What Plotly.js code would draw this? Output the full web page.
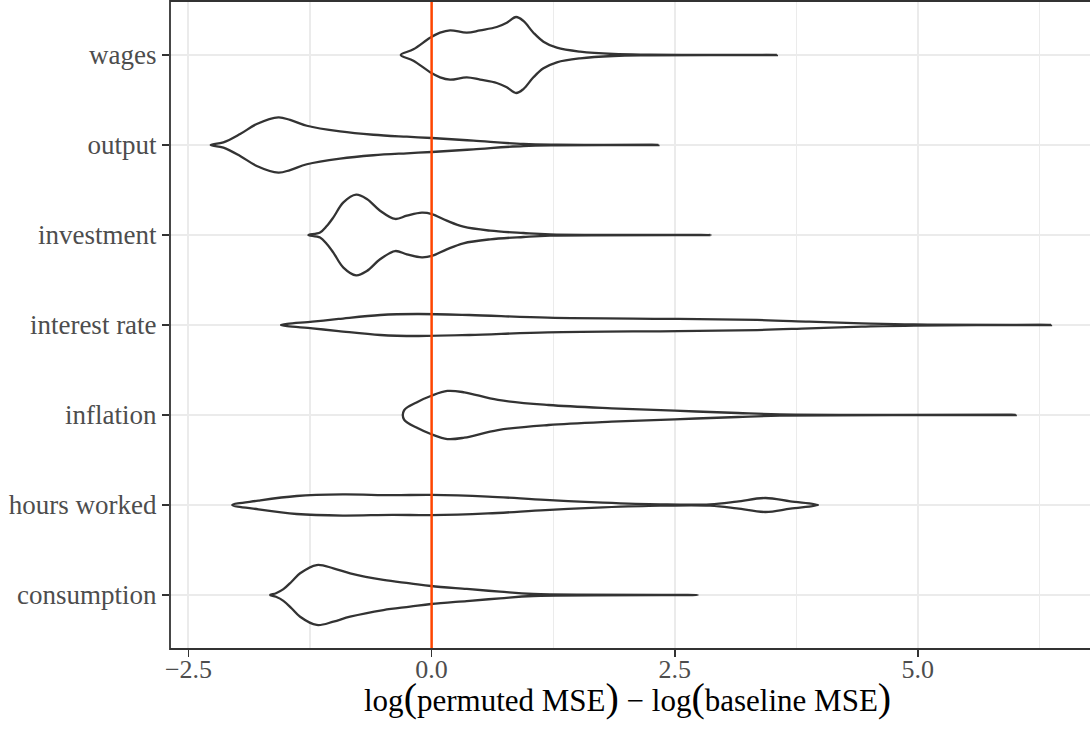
<!DOCTYPE html>
<html>
<head>
<meta charset="utf-8">
<script src="https://cdn.plot.ly/plotly-3.0.1.min.js"></script>
<style>html,body{margin:0;padding:0;background:#fff;}#chart{width:1090px;height:731px;}</style>
</head>
<body>
<div id="chart"></div>
<script>
// Categories (bottom to top)
const categories = ['consumption','hours worked','inflation','interest rate','investment','output','wages'];

// Violin outlines: x positions (log MSE ratio) and density half-widths (category units)
const consumptionX = [-1.661,-1.60,-1.524,-1.438,-1.352,-1.181,-1.010,-0.838,-0.496,-0.221,-0.005,0.362,0.704,1.047,2.737];
const consumptionW = [0,0.02,0.065,0.15,0.241,0.333,0.297,0.241,0.167,0.130,0.100,0.067,0.037,0.011,0];

const hoursX = [-2.05,-1.781,-1.388,-0.915,-0.404,-0.002,0.58,1.17,1.761,2.351,2.863,3.138,3.433,3.689,3.973];
const hoursW = [0,0.048,0.100,0.117,0.109,0.113,0.094,0.056,0.026,0.007,0.007,0.037,0.078,0.040,0];

const inflationX = [-0.283,-0.14,-0.002,0.162,0.336,0.682,1.202,1.851,2.5,3.149,3.582,6.006];
const inflationW = [0.052,0.148,0.214,0.267,0.252,0.167,0.111,0.074,0.048,0.022,0.008,0];

const interestX = [-1.549,-1.226,-0.956,-0.527,-0.15,0.388,1.195,2.539,3.346,3.884,4.422,4.96,6.369];
const interestW = [0,0.037,0.067,0.111,0.122,0.111,0.081,0.067,0.056,0.037,0.019,0.006,0];

const investmentX = [-1.267,-1.147,-1.078,-1.01,-0.907,-0.776,-0.666,-0.53,-0.375,-0.255,-0.101,0.002,0.156,0.327,0.602,0.944,1.219,2.871];
const investmentW = [0,0.029,0.1,0.196,0.362,0.448,0.400,0.270,0.178,0.214,0.248,0.233,0.159,0.092,0.048,0.022,0.007,0];

const outputX = [-2.271,-2.141,-1.969,-1.798,-1.575,-1.455,-1.283,-0.941,-0.599,-0.255,0.002,0.43,0.944,1.288,2.332];
const outputW = [0,0.029,0.122,0.233,0.307,0.278,0.214,0.151,0.114,0.092,0.078,0.048,0.011,0.003,0];

const wagesX = [-0.317,-0.187,-0.015,0.087,0.19,0.362,0.499,0.67,0.773,0.869,0.944,1.047,1.15,1.288,1.527,1.87,2.247,3.55];
const wagesW = [0,0.063,0.192,0.248,0.274,0.248,0.274,0.311,0.359,0.422,0.378,0.248,0.148,0.081,0.037,0.011,0.004,0];

const violinX = [consumptionX, hoursX, inflationX, interestX, investmentX, outputX, wagesX];
const violinW = [consumptionW, hoursW, inflationW, interestW, investmentW, outputW, wagesW];

// Axis ticks
const xTickVals = [-2.5, 0, 2.5, 5];
const xTickText = ['\u22122.5', '0.0', '2.5', '5.0'];
const xMinorVals = [-1.25, 1.25, 3.75, 6.25];
const yTickVals = [1,2,3,4,5,6,7];
const refLineX = 0;

const traces = categories.map((cat, k) => {
  const c = yTickVals[k];
  const xs = violinX[k], ws = violinW[k];
  const n = xs.length;
  const px = [], py = [];
  for (let i = 0; i < n; i++) { px.push(xs[i]); py.push(c + ws[i]); }
  for (let i = n - 1; i >= 0; i--) {
    if (ws[i] === 0) continue;
    px.push(xs[i]); py.push(c - ws[i]);
  }
  px.push(px[0]); py.push(py[0]);
  return {
    type: 'scatter', mode: 'lines', x: px, y: py, name: cat,
    fill: 'toself', fillcolor: '#FFFFFF',
    line: {color: '#333333', width: 2.3, shape: 'spline', smoothing: 1},
    hoverinfo: 'skip', showlegend: false
  };
});

const serif = 'Liberation Serif, Times New Roman, serif';
const P = s => '<span style="font-size:40px">' + s + '</span>';
const xTitle = 'log' + P('(') + 'permuted MSE' + P(')') + ' \u2212 log' + P('(') + 'baseline MSE' + P(')');
const layout = {
  width: 1090, height: 731,
  margin: {l: 170, r: 0, t: 1, b: 82},
  paper_bgcolor: '#FFFFFF', plot_bgcolor: '#FFFFFF',
  showlegend: false,
  xaxis: {
    range: [-2.69, 6.77],
    tickmode: 'array', tickvals: xTickVals, ticktext: xTickText,
    showgrid: true, gridcolor: '#EBEBEB', gridwidth: 2,
    minor: {tickmode: 'array', tickvals: xMinorVals, showgrid: true, gridcolor: '#EBEBEB', gridwidth: 1.1, ticks: ''},
    zeroline: false, showline: false,
    ticks: 'outside', ticklen: 7, tickwidth: 1.6, tickcolor: '#333333',
    ticklabelstandoff: -10,
    tickfont: {family: serif, size: 26, color: '#4D4D4D'}
  },
  yaxis: {
    range: [0.4, 7.6],
    tickmode: 'array', tickvals: yTickVals, ticktext: categories,
    showgrid: true, gridcolor: '#EBEBEB', gridwidth: 2,
    zeroline: false, showline: false,
    ticks: 'outside', ticklen: 7, tickwidth: 1.6, tickcolor: '#333333',
    tickfont: {family: serif, size: 27, color: '#4D4D4D'}
  },
  annotations: [
    {text: xTitle, xref: 'paper', yref: 'paper', x: 0.497, y: -0.075, xanchor: 'center', yanchor: 'middle',
     showarrow: false, font: {family: serif, size: 31, color: '#000000'}}
  ],
  shapes: [
    {type: 'line', xref: 'x', yref: 'paper', x0: refLineX, x1: refLineX, y0: 0, y1: 1,
     line: {color: '#FF4500', width: 2.5}, layer: 'above'},
    {type: 'rect', xref: 'paper', yref: 'paper', x0: 0, x1: 1.05, y0: 0, y1: 1,
     line: {color: '#333333', width: 1.8}, fillcolor: 'rgba(0,0,0,0)', layer: 'above'}
  ]
};

Plotly.newPlot('chart', traces, layout, {staticPlot: true, displayModeBar: false});
</script>
</body>
</html>
